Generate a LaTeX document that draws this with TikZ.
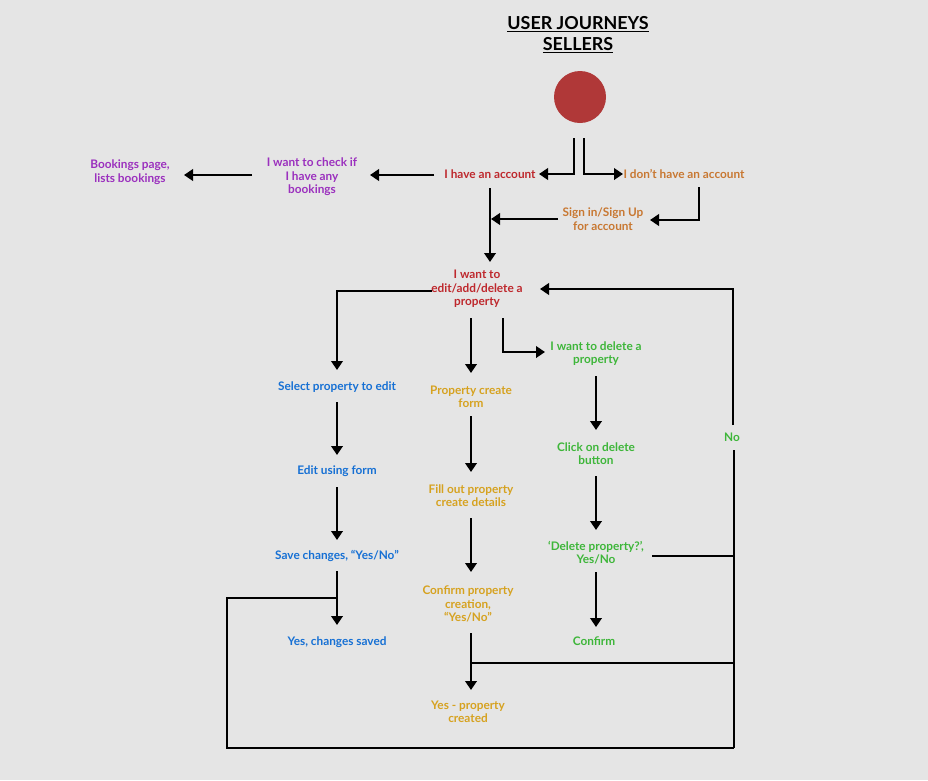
\documentclass[tikz,border=0pt]{standalone}
\usepackage{fontspec}
\setmainfont{Lato}
\usetikzlibrary{arrows.meta,calc}
\definecolor{bg}{RGB}{229,229,229}
\definecolor{cred}{RGB}{190,40,45}
\definecolor{corange}{RGB}{200,120,50}
\definecolor{cpurple}{RGB}{155,48,190}
\definecolor{cblue}{RGB}{22,112,212}
\definecolor{cyellow}{RGB}{214,162,32}
\definecolor{cgreen}{RGB}{62,182,58}
\definecolor{ccircle}{RGB}{176,56,56}
\tikzset{
  txt/.style={align=center, inner sep=0pt, font=\bfseries\fontsize{11.8}{13.4}\selectfont},
  ln/.style={line width=2.8pt, line join=miter, black},
  arr/.style={ln, -{Triangle[length=9pt,width=11.5pt]}},
}
\begin{document}
\begin{tikzpicture}[x=1pt,y=-1pt]
\fill[bg] (0,0) rectangle (928,780);
\useasboundingbox (0,0) rectangle (928,780);

\node[txt, font=\bfseries\fontsize{17.9}{21}\selectfont] (title) at (578,35) {\underline{USER JOURNEYS}\\\underline{SELLERS}};
\node[circle, fill=ccircle, minimum size=52pt, inner sep=0pt] (start) at (580,97) {};

\node[txt, text=cred] (hasacc) at (490,174) {I have an account};
\node[txt, text=corange] (noacc) at (684,174) {I don’t have an account};
\node[txt, text=cpurple] (check) at (312,177) {I want to check if\\I have any\\bookings};
\node[txt, text=cpurple] (bookings) at (130,172) {Bookings page,\\lists bookings};
\node[txt, text=corange] (signin) at (603,219) {Sign in/Sign Up\\for account};
\node[txt, text=cred] (want) at (477,289) {I want to\\edit/add/delete a\\property};

\node[txt, text=cblue] (sel) at (337,387) {Select property to edit};
\node[txt, text=cblue] (edit) at (337,471) {Edit using form};
\node[txt, text=cblue] (save) at (337,556) {Save changes, “Yes/No”};
\node[txt, text=cblue] (saved) at (337,642) {Yes, changes saved};

\node[txt, text=cyellow] (create) at (471,396.5) {Property create\\form};
\node[txt, text=cyellow] (fill) at (471,495.5) {Fill out property\\create details};
\node[txt, text=cyellow] (confirmc) at (468,604) {Confirm property\\creation,\\“Yes/No”};
\node[txt, text=cyellow] (created) at (468,711.5) {Yes - property\\created};

\node[txt, text=cgreen] (deltxt) at (596,353.5) {I want to delete a\\property};
\node[txt, text=cgreen] (click) at (596,453.5) {Click on delete\\button};
\node[txt, text=cgreen] (delq) at (596,552.5) {‘Delete property?’,\\Yes/No};
\node[txt, text=cgreen] (confirmd) at (594,641) {Confirm};
\node[txt, text=cgreen] (no) at (732,437) {No};

\coordinate (br) at (734,748);
\coordinate (bl) at (227,598);

% top
\draw[arr] ($(start)+(-6,41)$) |- ($(hasacc)+(49,0)$);
\draw[arr] ($(start)+(4,41)$) |- ($(noacc)+(-61,0)$);
\draw[arr] ($(hasacc)+(-56,1)$) -- ($(check)+(58,-2)$);
\draw[arr] ($(check)+(-60,-2)$) -- ($(bookings)+(54,3)$);
\draw[arr] ($(noacc)+(15,13)$) |- ($(signin)+(47,1)$);
\draw[arr] ($(signin)+(-45,0)$) -- ($(hasacc)+(1,45)$);
\draw[arr] ($(hasacc)+(0,14)$) -- ($(want)+(13,-27)$);

% branches
\draw[arr] ($(want)+(-45,2)$) -| ($(sel)+(0,-17)$);
\draw[arr] ($(want)+(-6,29)$) -- ($(create)+(0,-23.5)$);
\draw[arr] ($(want)+(26,29)$) |- ($(deltxt)+(-51,-1.5)$);

% edit column
\draw[arr] ($(sel)+(0,15)$) -- ($(edit)+(0,-16)$);
\draw[arr] ($(edit)+(0,16)$) -- ($(save)+(0,-16)$);
\draw[arr] ($(save)+(0,15)$) -- ($(saved)+(0,-17)$);

% create column
\draw[arr] ($(create)+(0,19.5)$) -- ($(fill)+(0,-23.5)$);
\draw[arr] ($(fill)+(0,22.5)$) -- ($(confirmc)+(3,-32)$);
\draw[arr] ($(confirmc)+(3,29)$) -- ($(created)+(3,-21.5)$);

% delete column
\draw[arr] ($(deltxt)+(0,22.5)$) -- ($(click)+(0,-23.5)$);
\draw[arr] ($(click)+(0,22.5)$) -- ($(delq)+(0,-22.5)$);
\draw[arr] ($(delq)+(0,19.5)$) -- ($(confirmd)+(2,-14)$);

% loops
\draw[arr] ($(no)+(1,-12)$) |- ($(want)+(63,0)$);
\draw[ln] ($(no)+(2,13)$) -- (br);
\draw[ln] ($(delq)+(56,3.5)$) -- ($(delq)+(139,3.5)$);
\draw[ln] ($(save)+(0,42)$) -- (bl) |- (br);
\draw[ln] ($(confirmc)+(3,59)$) -- ($(br)+(0,-85)$);
\end{tikzpicture}
\end{document}
